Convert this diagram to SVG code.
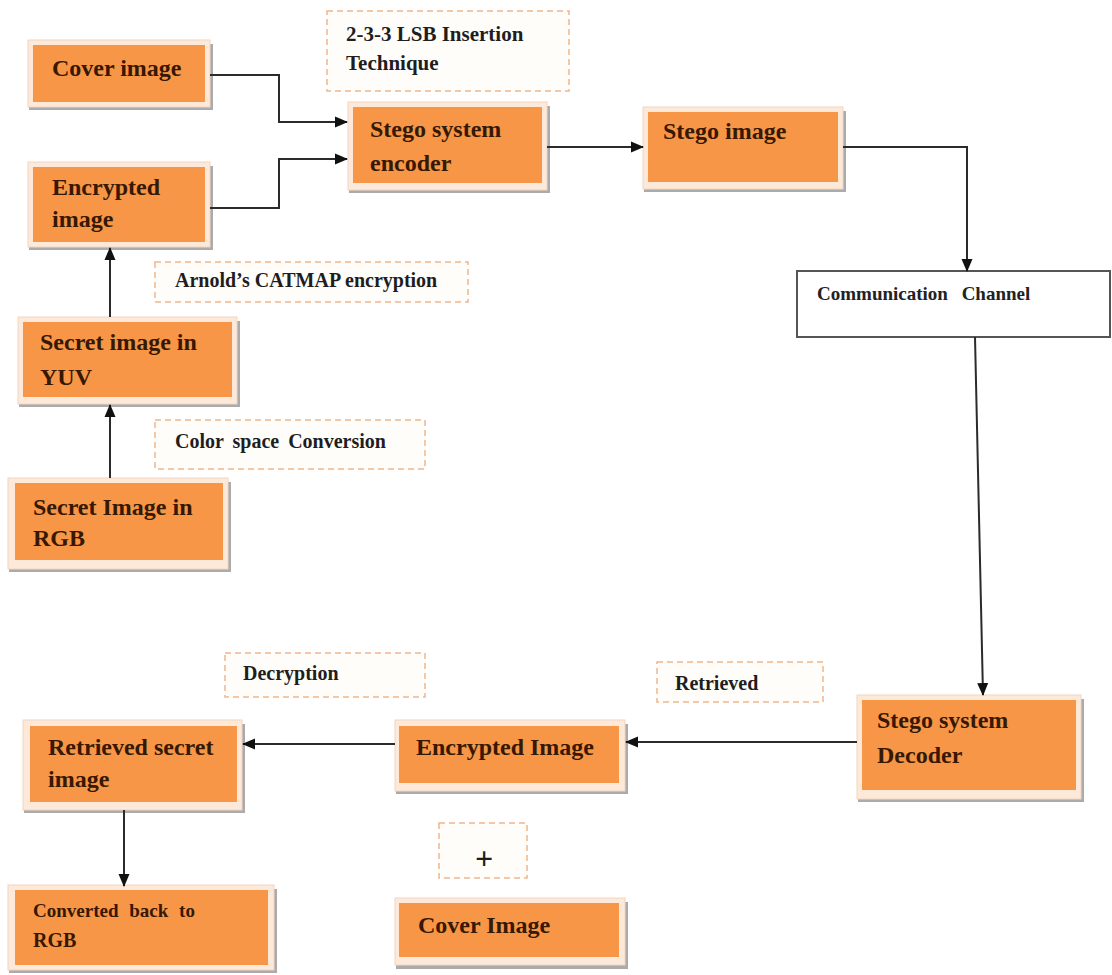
<svg xmlns="http://www.w3.org/2000/svg" width="1112" height="975" viewBox="0 0 1112 975">
<style>
.sh{fill:#8f8f8f;opacity:0.75}
.cr{fill:#fce9da;stroke:#f3d6c0;stroke-width:1}
.or{fill:#f79646}
.nt{font-family:"Liberation Serif","Times New Roman",serif;font-weight:bold;font-size:24px;fill:#361803}
.lt{font-family:"Liberation Serif","Times New Roman",serif;font-weight:bold;font-size:20px;fill:#1e1e1e}
.db{fill:#fffdfa;stroke:#eeb68c;stroke-width:1.5;stroke-dasharray:6 4}
.cn{fill:none;stroke:#2b2b2b;stroke-width:2}
</style>
<defs>
<marker id="ah" markerUnits="userSpaceOnUse" markerWidth="13" markerHeight="13" viewBox="0 0 13 13" refX="12" refY="6.5" orient="auto">
<path d="M0,1 L13,6.5 L0,12 Z" fill="#111"/>
</marker>
</defs>

<g id="label-lsb"><rect class="db" x="327" y="11" width="242" height="80"/><text class="lt" x="346" y="41" style="font-size:21px">2-3-3 LSB Insertion</text><text class="lt" x="346" y="70" style="font-size:21px">Technique</text></g>
<g id="label-arnold"><rect class="db" x="155" y="262" width="313" height="40"/><text class="lt" x="175" y="287">Arnold’s CATMAP encryption</text></g>
<g id="label-color"><rect class="db" x="155" y="420" width="270" height="49"/><text class="lt" x="175" y="448" style="word-spacing:4px">Color space Conversion</text></g>
<g id="label-decryption"><rect class="db" x="225" y="653" width="200" height="44"/><text class="lt" x="243" y="680">Decryption</text></g>
<g id="label-retrieved"><rect class="db" x="657" y="662" width="166" height="40"/><text class="lt" x="675" y="690">Retrieved</text></g>
<g id="label-plus"><rect class="db" x="439" y="823" width="88" height="55"/><text class="lt" x="484" y="869" text-anchor="middle" style="font-size:32px">+</text></g>

<g id="node-cover"><rect class="sh" x="29" y="44" width="184" height="66"/><rect class="cr" x="28" y="40" width="182" height="67"/><rect class="or" x="33" y="45" width="172" height="57"/><text class="nt" x="52" y="76">Cover image</text></g>
<g id="node-encrypted"><rect class="sh" x="29" y="166" width="184" height="84"/><rect class="cr" x="28" y="162" width="182" height="85"/><rect class="or" x="33" y="167" width="172" height="75"/><text class="nt" x="52" y="195">Encrypted</text><text class="nt" x="52" y="227">image</text></g>
<g id="node-encoder"><rect class="sh" x="349" y="106" width="201" height="87"/><rect class="cr" x="348" y="102" width="199" height="88"/><rect class="or" x="353" y="107" width="189" height="76"/><text class="nt" x="370" y="137">Stego system</text><text class="nt" x="370" y="171">encoder</text></g>
<g id="node-stego-image"><rect class="sh" x="644" y="111" width="202" height="81"/><rect class="cr" x="643" y="107" width="200" height="82"/><rect class="or" x="648" y="112" width="190" height="70"/><text class="nt" x="663" y="139">Stego image</text></g>
<g id="node-channel"><rect x="797" y="271" width="313" height="66" fill="#fff" stroke="#555" stroke-width="2"/><text class="lt" x="817" y="300" style="font-size:19px;word-spacing:9px;fill:#222">Communication Channel</text></g>
<g id="node-yuv"><rect class="sh" x="19" y="321" width="221" height="86"/><rect class="cr" x="18" y="317" width="219" height="87"/><rect class="or" x="23" y="322" width="209" height="75"/><text class="nt" x="40" y="350">Secret image in</text><text class="nt" x="40" y="385">YUV</text></g>
<g id="node-rgb"><rect class="sh" x="9" y="482" width="222" height="90"/><rect class="cr" x="8" y="478" width="220" height="91"/><rect class="or" x="15" y="483" width="208" height="77"/><text class="nt" x="33" y="515">Secret Image in</text><text class="nt" x="33" y="546">RGB</text></g>
<g id="node-decoder"><rect class="sh" x="858" y="699" width="226" height="103"/><rect class="cr" x="857" y="695" width="224" height="104"/><rect class="or" x="862" y="700" width="214" height="90"/><text class="nt" x="877" y="728">Stego system</text><text class="nt" x="877" y="763">Decoder</text></g>
<g id="node-encrypted-image"><rect class="sh" x="396" y="724" width="232" height="70"/><rect class="cr" x="395" y="720" width="230" height="71"/><rect class="or" x="399" y="726" width="220" height="57"/><text class="nt" x="416" y="755">Encrypted Image</text></g>
<g id="node-cover-image"><rect class="sh" x="396" y="902" width="232" height="67"/><rect class="cr" x="395" y="898" width="230" height="67"/><rect class="or" x="399" y="903" width="220" height="54"/><text class="nt" x="418" y="933">Cover Image</text></g>
<g id="node-retrieved-secret"><rect class="sh" x="24" y="724" width="221" height="89"/><rect class="cr" x="23" y="720" width="219" height="90"/><rect class="or" x="30" y="726" width="207" height="76"/><text class="nt" x="48" y="755">Retrieved secret</text><text class="nt" x="48" y="787">image</text></g>
<g id="node-converted"><rect class="sh" x="9" y="889" width="268" height="84"/><rect class="cr" x="8" y="885" width="266" height="85"/><rect class="or" x="15" y="890" width="253" height="75"/><text class="nt" x="33" y="917" style="font-size:19px;word-spacing:6px">Converted back to</text><text class="nt" x="33" y="947" style="font-size:20px">RGB</text></g>

<g id="connectors">
<polyline class="cn" points="210,75 279,75 279,122 347,122" marker-end="url(#ah)"/>
<polyline class="cn" points="210,208 279,208 279,159 347,159" marker-end="url(#ah)"/>
<line class="cn" x1="547" y1="147" x2="643" y2="147" marker-end="url(#ah)"/>
<polyline class="cn" points="843,147 967,147 967,271" marker-end="url(#ah)"/>
<line class="cn" x1="975" y1="337" x2="983" y2="695" marker-end="url(#ah)"/>
<line class="cn" x1="857" y1="742" x2="626" y2="742" marker-end="url(#ah)"/>
<line class="cn" x1="395" y1="744" x2="243" y2="744" marker-end="url(#ah)"/>
<line class="cn" x1="124" y1="810" x2="124" y2="886" marker-end="url(#ah)"/>
<line class="cn" x1="110" y1="317" x2="110" y2="248" marker-end="url(#ah)"/>
<line class="cn" x1="110" y1="478" x2="110" y2="405" marker-end="url(#ah)"/>
</g>
</svg>
